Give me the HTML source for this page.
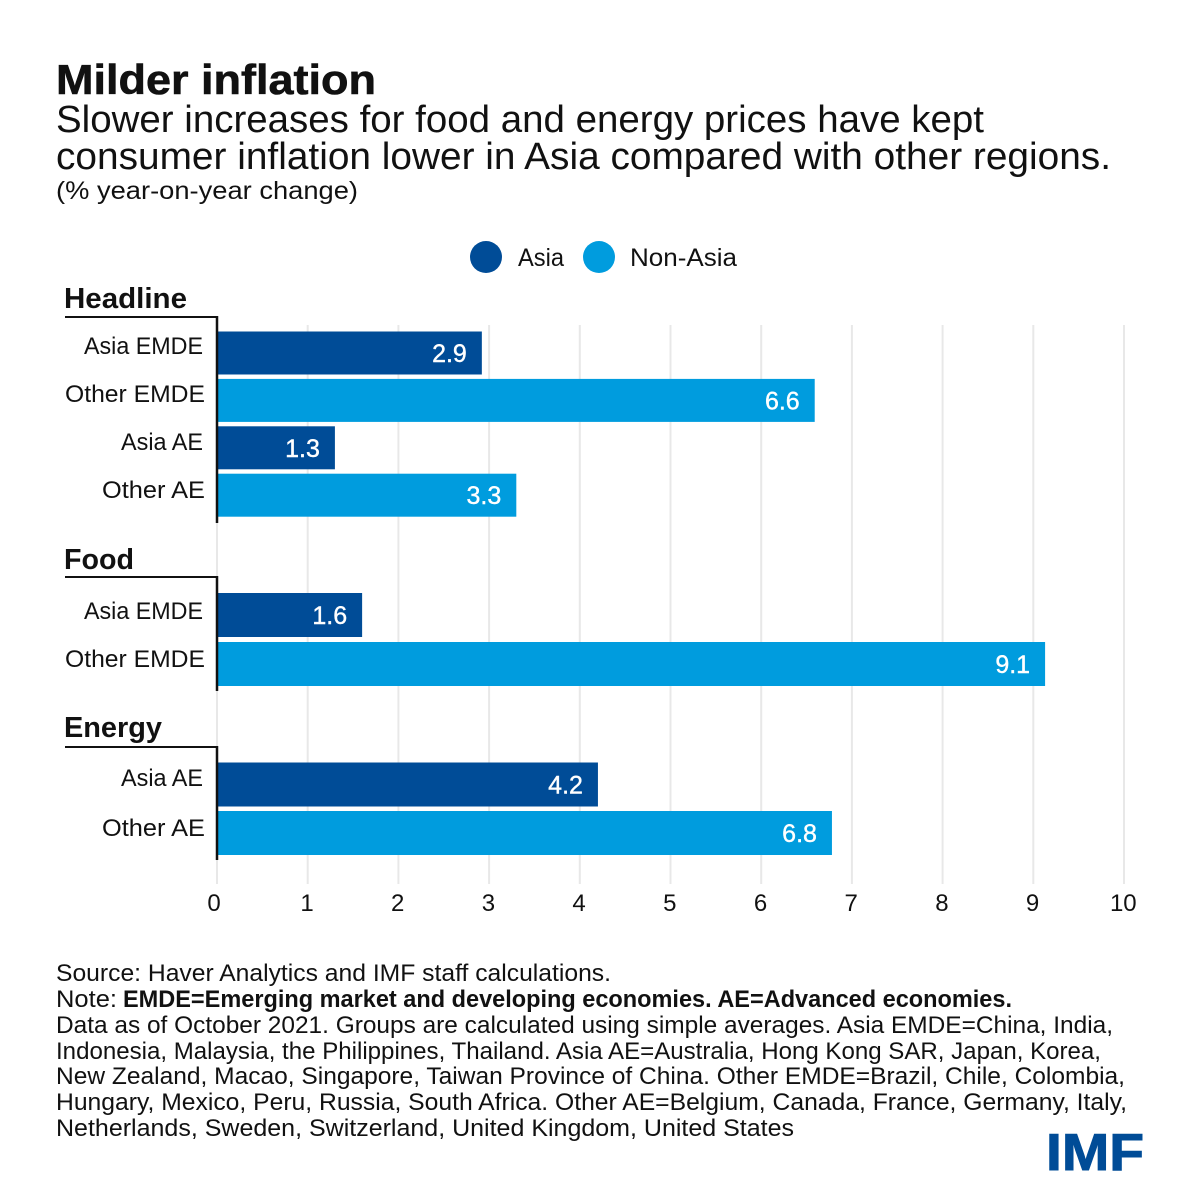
<!DOCTYPE html>
<html>
<head>
<meta charset="utf-8">
<title>Milder inflation</title>
<style>
html,body{margin:0;padding:0;background:#fff;width:1200px;height:1200px;overflow:hidden}
svg{display:block}
text{font-family:"Liberation Sans",sans-serif;fill:#111}
.b{font-weight:bold}
.f{font-size:24px}
</style>
</head>
<body>
<svg id="chart" xmlns="http://www.w3.org/2000/svg" width="1200" height="1200" viewBox="0 0 1200 1200">
  <rect x="0" y="0" width="1200" height="1200" fill="#fff"/>
  <text class="b" x="56" y="94" font-size="42" textLength="320" lengthAdjust="spacingAndGlyphs" style="stroke:#111;stroke-width:.6">Milder inflation</text>
  <text x="56" y="132" font-size="38" textLength="928" lengthAdjust="spacingAndGlyphs">Slower increases for food and energy prices have kept</text>
  <text x="56" y="169" font-size="38" textLength="1055" lengthAdjust="spacingAndGlyphs">consumer inflation lower in Asia compared with other regions.</text>
  <text x="56" y="199" font-size="25" textLength="302" lengthAdjust="spacingAndGlyphs">(% year-on-year change)</text>

  <g>
    <circle cx="486" cy="257" r="16" fill="#004c97"/>
    <text x="518" y="266" font-size="25" textLength="46" lengthAdjust="spacingAndGlyphs">Asia</text>
    <circle cx="599" cy="257" r="16" fill="#009cde"/>
    <text x="630" y="266" font-size="25" textLength="107" lengthAdjust="spacingAndGlyphs">Non-Asia</text>
  </g>

  <g id="grid"></g>
  <g id="bars"></g>
  <g id="axes"></g>

  <g>
    <text class="f" x="56" y="981" textLength="555" lengthAdjust="spacingAndGlyphs">Source: Haver Analytics and IMF staff calculations.</text>
    <text class="f" x="56" y="1007" textLength="61" lengthAdjust="spacingAndGlyphs">Note:</text>
    <text class="f b" x="123" y="1007" textLength="889" lengthAdjust="spacingAndGlyphs">EMDE=Emerging market and developing economies. AE=Advanced economies.</text>
    <text class="f" x="56" y="1033" textLength="1057" lengthAdjust="spacingAndGlyphs">Data as of October 2021. Groups are calculated using simple averages. Asia EMDE=China, India,</text>
    <text class="f" x="56" y="1059" textLength="1045" lengthAdjust="spacingAndGlyphs">Indonesia, Malaysia, the Philippines, Thailand. Asia AE=Australia, Hong Kong SAR, Japan, Korea,</text>
    <text class="f" x="56" y="1084" textLength="1069" lengthAdjust="spacingAndGlyphs">New Zealand, Macao, Singapore, Taiwan Province of China. Other EMDE=Brazil, Chile, Colombia,</text>
    <text class="f" x="56" y="1110" textLength="1071" lengthAdjust="spacingAndGlyphs">Hungary, Mexico, Peru, Russia, South Africa. Other AE=Belgium, Canada, France, Germany, Italy,</text>
    <text class="f" x="56" y="1136" textLength="738" lengthAdjust="spacingAndGlyphs">Netherlands, Sweden, Switzerland, United Kingdom, United States</text>
  </g>
  <text class="b" x="1046" y="1170" font-size="52" textLength="98" lengthAdjust="spacingAndGlyphs" style="fill:#004c97;stroke:#004c97;stroke-width:1">IMF</text>
</svg>
<script>
const xTicks = [0, 1, 2, 3, 4, 5, 6, 7, 8, 9, 10];
const groupNames = ["Headline", "Food", "Energy"];
const headlineCategories = ["Asia EMDE", "Other EMDE", "Asia AE", "Other AE"];
const headlineValues = [2.92, 6.59, 1.3, 3.3];
const foodCategories = ["Asia EMDE", "Other EMDE"];
const foodValues = [1.6, 9.13];
const energyCategories = ["Asia AE", "Other AE"];
const energyValues = [4.2, 6.78];

const NS = "http://www.w3.org/2000/svg";
const X0 = 217;
const UNIT = 90.7;
const COLOR_ASIA = "#004c97";
const COLOR_NON_ASIA = "#009cde";

function labelWidth(name) {
  if (name === "Asia EMDE") return 119;
  if (name === "Other EMDE") return 140;
  if (name === "Asia AE") return 82;
  return 103;
}

function headerWidth(name) {
  if (name === "Headline") return 123;
  if (name === "Food") return 70;
  return 98;
}

function xScale(v) {
  return X0 + v * UNIT;
}

function make(parent, tag, attrs, text) {
  const el = document.createElementNS(NS, tag);
  for (const k in attrs) el.setAttribute(k, attrs[k]);
  if (text !== undefined) el.textContent = text;
  parent.appendChild(el);
  return el;
}

function drawGrid() {
  const grid = document.getElementById("grid");
  const axes = document.getElementById("axes");
  xTicks.forEach(function (t) {
    const line = make(grid, "line", { x1: xScale(t), x2: xScale(t), y1: 325, y2: 884, stroke: "#e8e8e8", "stroke-width": 2 });
    
    
    const label = make(axes, "text", { x: xScale(t) - (t === 0 ? 3 : 0.7), y: 911, "font-size": 24, "text-anchor": "middle" }, String(t));
    
    
  });
}

function drawGroup(name, categories, values, top, headerY, start, step, height, bottom, labelStart, labelStep) {
  const bars = document.getElementById("bars");
  const axes = document.getElementById("axes");

  const header = make(axes, "text", { x: 64, y: headerY, "font-size": 29, "font-weight": "bold", textLength: headerWidth(name), lengthAdjust: "spacingAndGlyphs" }, name);
  
  

  const rule = make(axes, "line", { x1: 65, x2: X0 + 1, y1: top, y2: top, stroke: "#111", "stroke-width": 2 });
  
  

  values.forEach(function (v, i) {
    const y = start + i * step;
    const isAsia = categories[i].indexOf("Asia") === 0;
    const bar = make(bars, "rect", { x: X0, y: y, width: xScale(v) - X0, height: height, fill: isAsia ? COLOR_ASIA : COLOR_NON_ASIA });
    
    

    const value = make(bars, "text", { x: xScale(v) - 15, y: y + height / 2 + 9, "font-size": 25, "text-anchor": "end", style: "fill:#fff;stroke:#fff;stroke-width:.4" }, v.toFixed(1));
    
    

    const label = make(axes, "text", { x: isAsia ? 203 : 205, y: labelStart + i * labelStep, "font-size": 24.5, "text-anchor": "end", textLength: labelWidth(categories[i]), lengthAdjust: "spacingAndGlyphs" }, categories[i]);
    
    
  });

  const spine = make(axes, "line", { x1: X0, x2: X0, y1: top - 1, y2: bottom, stroke: "#111", "stroke-width": 2.5 });
  
  
}

drawGrid();
drawGroup(groupNames[0], headlineCategories, headlineValues, 317, 308, 331.5, 47.4, 43, 523, 354, 48);
drawGroup(groupNames[1], foodCategories, foodValues, 577, 569, 593, 49, 44, 691, 619, 48);
drawGroup(groupNames[2], energyCategories, energyValues, 747, 737, 762.5, 48.5, 44, 860, 786, 50);
</script>
</body>
</html>
